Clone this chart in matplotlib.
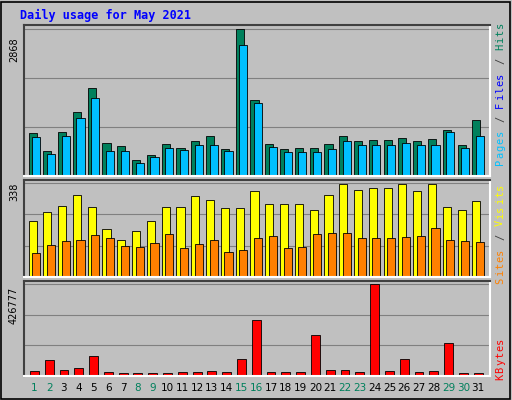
import matplotlib
matplotlib.use("Agg")
import matplotlib.pyplot as plt
from matplotlib.patches import Rectangle
import numpy as np

days = list(range(1, 32))
weekends = [1, 2, 8, 9, 15, 16, 22, 23, 29, 30]
hits = [840, 480, 860, 1250, 1720, 640, 580, 310, 410, 620, 540, 680, 780, 520, 2868, 1480, 620, 520, 540, 540, 620, 780, 680, 700, 700, 740, 680, 720, 900, 600, 1100]
files = [760, 440, 780, 1140, 1520, 480, 480, 250, 370, 540, 500, 600, 600, 480, 2560, 1420, 560, 460, 460, 460, 520, 680, 600, 600, 600, 640, 600, 600, 860, 540, 780]
visits = [201, 234, 255, 295, 252, 173, 133, 166, 201, 252, 252, 291, 277, 248, 248, 309, 262, 262, 262, 241, 295, 334, 313, 320, 320, 334, 309, 334, 252, 241, 273]
sites = [86, 115, 129, 133, 151, 140, 111, 108, 122, 155, 104, 119, 133, 90, 97, 140, 147, 104, 108, 155, 158, 158, 140, 140, 140, 144, 147, 176, 133, 129, 126]
kbytes = [23000, 74000, 28000, 37000, 93000, 19000, 14000, 14000, 14000, 14000, 19000, 19000, 23000, 19000, 79000, 260000, 19000, 19000, 19000, 190000, 28000, 28000, 19000, 426777, 23000, 79000, 19000, 23000, 153000, 14000, 14000]

W, H = 512, 400
fig = plt.figure(figsize=(W/100, H/100), dpi=100)
fig.patch.set_facecolor('#C0C0C0')
# outer border
fig.add_artist(Rectangle((1/W, 1/H), (W-3)/W, (H-3)/H, transform=fig.transFigure, fill=False, ec='black', lw=1.2))
fig.text(20/W, 1-15/H, 'Daily usage for May 2021', color='#0000FF', fontsize=8.5,
         family='DejaVu Sans Mono', weight='bold', va='center')

x0, x1 = 24, 490
def mkax(top, bot):
    ax = fig.add_axes([x0/W, 1-bot/H, (x1-x0)/W, (bot-top)/H])
    ax.set_facecolor('#C0C0C0')
    ax.set_xlim(0.3, 31.8)
    ax.set_xticks([])
    for s in ['top', 'left']:
        ax.spines[s].set_color('#404040')
    for s in ['bottom', 'right']:
        ax.spines[s].set_color('white')
    for s in ax.spines.values():
        s.set_linewidth(1.5)
    return ax

d = np.array(days)
bw = 0.55
ax1 = mkax(25, 176)
ax1.set_ylim(0, 2868*1.03)
for yv in [2868/3*i for i in (1, 2)] + [2868]:
    ax1.axhline(yv, color='#808080', lw=0.8, zorder=0)
ax1.set_yticks([])
ax1.bar(d-0.12, hits, width=bw, color='#00805C', ec='black', lw=0.6)
ax1.bar(d+0.12, files, width=bw, color='#00C0FF', ec='black', lw=0.6)
fig.text(14/W, 1-50/H, '2868', rotation=90, fontsize=7, ha='center', va='center')

ax2 = mkax(180, 277)
ax2.set_ylim(0, 338*1.03)
for yv in [338/3*i for i in (1, 2)] + [338]:
    ax2.axhline(yv, color='#808080', lw=0.8, zorder=0)
ax2.set_yticks([])
ax2.bar(d-0.12, visits, width=bw, color='#FFFF00', ec='black', lw=0.6)
ax2.bar(d+0.12, sites, width=bw, color='#FF8000', ec='black', lw=0.6)
fig.text(14/W, 1-192/H, '338', rotation=90, fontsize=7, ha='center', va='center')

ax3 = mkax(281, 376)
ax3.set_ylim(0, 426777*1.03)
for yv in [426777/3*i for i in (1, 2)] + [426777]:
    ax3.axhline(yv, color='#808080', lw=0.8, zorder=0)
ax3.set_yticks([])
ax3.bar(d, kbytes, width=0.6, color='#FF0000', ec='black', lw=0.6)
fig.text(14/W, 1-305/H, '426777', rotation=90, fontsize=7, ha='center', va='center')

# day labels
for dd in days:
    xp = (x0 + (dd-0.3)/(31.5)*(x1-x0)) / W
    fig.text(xp, 1-388/H, str(dd), fontsize=7.5, ha='center', va='center',
             color='#00805C' if dd in weekends else 'black')

# right labels
def rlabel(parts, ycenter):
    txt = ''.join(p for p, c in parts)
    n = len(txt)
    ch = 7.2
    y = ycenter + n*ch/2
    for p, c in parts:
        for char in p:
            fig.text(500/W, 1-y/H, char, rotation=90, fontsize=7.5, color=c,
                     family='DejaVu Sans Mono', ha='center', va='center')
            y -= ch

rlabel([('Pages', '#00C0FF'), (' / ', '#404040'), ('Files', '#0000FF'), (' / ', '#404040'), ('Hits', '#00805C')], 90)
rlabel([('Sites', '#FF8000'), (' / ', '#404040'), ('Visits', '#FFFF00')], 230)
rlabel([('KBytes', '#FF0000')], 355)

fig.savefig('out.png', dpi=100, facecolor=fig.get_facecolor())
